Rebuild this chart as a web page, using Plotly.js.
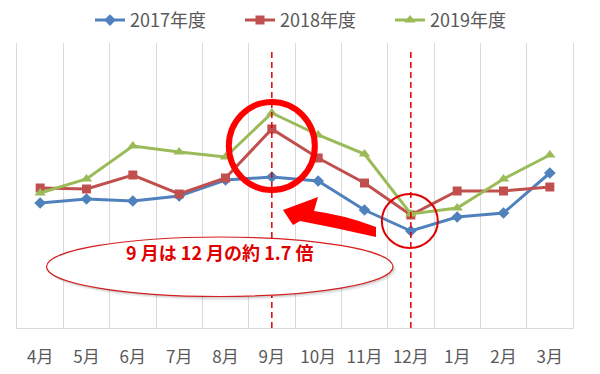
<!DOCTYPE html>
<html>
<head>
<meta charset="utf-8">
<script src="https://cdn.plot.ly/plotly-3.0.1.min.js"></script>
<style>
  html, body { margin: 0; padding: 0; background: #ffffff; }
  #chart { width: 600px; height: 374px; }
</style>
</head>
<body>
<div id="chart"></div>
<script>
// ---- data ----
const months = ['4月','5月','6月','7月','8月','9月','10月','11月','12月','1月','2月','3月'];
const fy2017 = [125, 129, 127, 132, 148, 151, 147, 118, 97, 111, 115, 155];
const fy2018 = [140, 139, 153, 134, 150, 199, 170, 145, 113, 137, 137, 141];
const fy2019 = [135, 149, 182, 176, 171, 215, 193, 174, 114, 120, 149, 173];
const seriesNames = ['2017年度', '2018年度', '2019年度'];
const calloutText = '9 月は 12 月の約 1.7 倍';

// ---- layout constants ----
const W = 600, H = 374;
const M = { l: 17, r: 27, t: 43, b: 46 };
const PW = W - M.l - M.r, PH = H - M.t - M.b;
const X = px => (px - M.l) / PW;          // page px -> paper x
const Y = py => (H - M.b - py) / PH;      // page px -> paper y

const FONT = '"Noto Sans CJK JP", "Noto Sans", sans-serif';
const RED = '#ff0000';

const i9 = months.indexOf('9月');
const i12 = months.indexOf('12月');

const traces = [
  { name: seriesNames[0], x: months, y: fy2017, type: 'scatter', mode: 'lines+markers',
    line: { color: '#4f81bd', width: 3 }, marker: { symbol: 'diamond', size: 9, color: '#4f81bd' } },
  { name: seriesNames[1], x: months, y: fy2018, type: 'scatter', mode: 'lines+markers',
    line: { color: '#c0504d', width: 3 }, marker: { symbol: 'square', size: 9, color: '#c0504d' } },
  { name: seriesNames[2], x: months, y: fy2019, type: 'scatter', mode: 'lines+markers',
    line: { color: '#9bbb59', width: 3 }, marker: { symbol: 'triangle-up', size: 10, color: '#9bbb59' } }
];

// arrow outline (page pixels)
const arrowPts = [
  ['M', 283, 210], ['L', 318, 197], ['L', 314, 211],
  ['Q', 345, 215, 376, 227], ['L', 376, 237],
  ['Q', 337, 228, 300, 221], ['L', 293, 225], ['Z']
];
const arrowPath = arrowPts.map(p => {
  if (p[0] === 'Z') return 'Z';
  let s = p[0];
  for (let k = 1; k < p.length; k += 2) s += ' ' + X(p[k]).toFixed(4) + ',' + Y(p[k + 1]).toFixed(4);
  return s;
}).join(' ');

const shapes = [
  // dashed markers
  { type: 'line', xref: 'x', yref: 'paper', x0: i9, x1: i9, y0: 0, y1: Y(50),
    line: { color: '#e00000', width: 1.5, dash: '6px,4px' }, layer: 'above' },
  { type: 'line', xref: 'x', yref: 'paper', x0: i12, x1: i12, y0: 0, y1: Y(50),
    line: { color: '#e00000', width: 1.5, dash: '6px,4px' }, layer: 'above' },
  // callout shadow + ellipse
  { type: 'circle', xref: 'paper', yref: 'paper', x0: X(49), x1: X(396), y0: Y(300), y1: Y(240),
    fillcolor: 'rgba(0,0,0,0.07)', line: { width: 0 }, layer: 'above' },
  { type: 'circle', xref: 'paper', yref: 'paper', x0: X(47.5), x1: X(394.5), y0: Y(298.5), y1: Y(238.5),
    fillcolor: 'rgba(0,0,0,0.10)', line: { width: 0 }, layer: 'above' },
  { type: 'circle', xref: 'paper', yref: 'paper', x0: X(46.5), x1: X(393), y0: Y(296.5), y1: Y(237),
    fillcolor: '#ffffff', line: { color: '#d42020', width: 1.2 }, layer: 'above' },
  // big circle around September
  { type: 'circle', xref: 'x', yref: 'y', xsizemode: 'pixel', ysizemode: 'pixel',
    xanchor: i9, yanchor: 182, x0: -43, x1: 43, y0: -44, y1: 44,
    line: { color: RED, width: 6 }, layer: 'above' },
  // small circle around December
  { type: 'circle', xref: 'x', yref: 'y', xsizemode: 'pixel', ysizemode: 'pixel',
    xanchor: i12, yanchor: 107, x0: -29, x1: 27, y0: -27, y1: 27,
    line: { color: '#e00000', width: 2 }, layer: 'above' },
  // curved arrow
  { type: 'path', xref: 'paper', yref: 'paper', path: arrowPath,
    fillcolor: RED, line: { width: 0 }, layer: 'above' }
];

const layout = {
  width: W, height: H,
  margin: { l: M.l, r: M.r, t: M.t, b: M.b, pad: 0 },
  paper_bgcolor: '#ffffff', plot_bgcolor: '#ffffff',
  font: { family: FONT, color: '#595959' },
  showlegend: true,
  legend: {
    orientation: 'h', xref: 'container', yref: 'container',
    x: 0.525, xanchor: 'center', y: 0.995, yanchor: 'top',
    font: { family: FONT, size: 18, color: '#595959' },
    entrywidth: 105, entrywidthmode: 'pixels', itemwidth: 30,
    bgcolor: 'rgba(0,0,0,0)'
  },
  xaxis: {
    type: 'category', range: [-0.5, months.length - 0.5], autorange: false,
    tickson: 'boundaries', showgrid: true, gridcolor: '#d9d9d9', gridwidth: 1,
    showline: true, linecolor: '#d9d9d9', linewidth: 1, ticks: '', zeroline: false,
    tickfont: { family: FONT, size: 17, color: '#595959' }, ticklabelstandoff: 14,
    fixedrange: true
  },
  yaxis: {
    range: [0, PH], autorange: false, showgrid: false, zeroline: false, showticklabels: false, ticks: '',
    showline: true, mirror: true, linecolor: '#d9d9d9', linewidth: 1, fixedrange: true
  },
  shapes: shapes,
  annotations: [
    { xref: 'paper', yref: 'paper', x: X(219), y: Y(267), showarrow: false,
      text: '<b>' + calloutText + '</b>',
      font: { family: FONT, size: 18, color: '#e00000' } }
  ]
};

Plotly.newPlot('chart', traces, layout, { staticPlot: true, displayModeBar: false });
</script>
</body>
</html>
